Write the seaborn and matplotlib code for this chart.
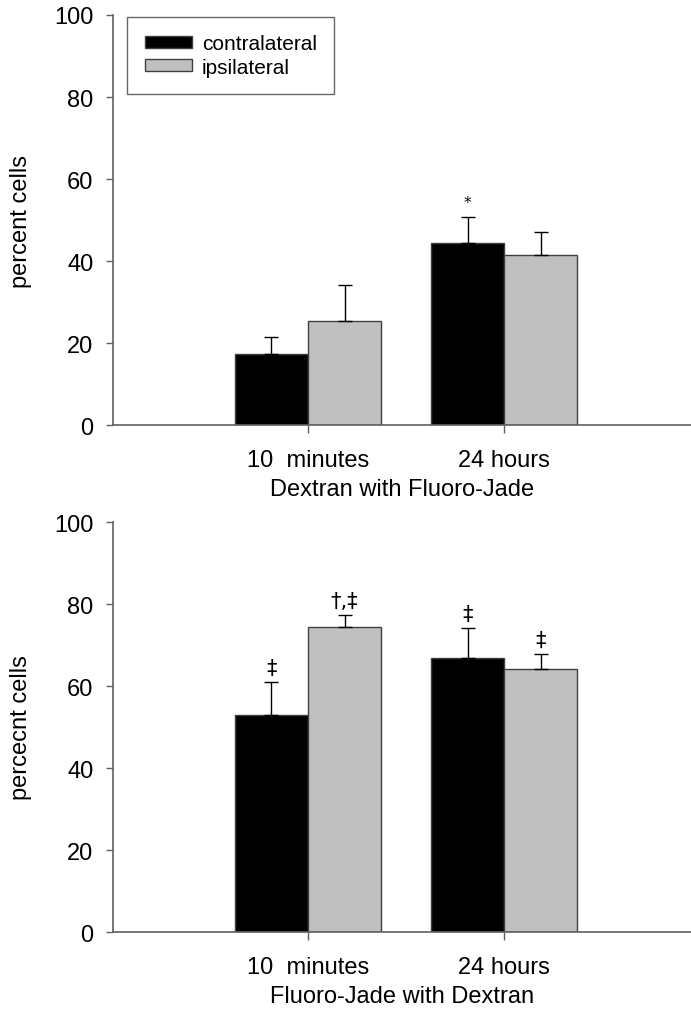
import matplotlib
matplotlib.use("Agg")
import matplotlib.pyplot as plt
import seaborn as sns
import pandas as pd

times = ["10  minutes", "24 hours"]
sides = ["contralateral", "ipsilateral"]

# Dextran with Fluoro-Jade
top_mean = {"contralateral": [17.3, 44.5], "ipsilateral": [25.4, 41.5]}
top_err = {"contralateral": [4.2, 6.2], "ipsilateral": [8.8, 5.6]}
top_marks = {"contralateral": ["", "*"], "ipsilateral": ["", ""]}

# Fluoro-Jade with Dextran
bot_mean = {"contralateral": [52.9, 66.9], "ipsilateral": [74.3, 64.1]}
bot_err = {"contralateral": [8.2, 7.2], "ipsilateral": [3.1, 3.8]}
bot_marks = {"contralateral": ["‡", "‡"], "ipsilateral": ["†,‡", "‡"]}

palette = {"contralateral": "#000000", "ipsilateral": "#c0c0c0"}

plt.rcParams["font.family"] = ["Liberation Sans", "DejaVu Sans"]
fig = plt.figure(figsize=(6.91, 10.12), dpi=100)
ax1 = fig.add_axes([0.1635, 0.579, 0.8365, 0.4052])
ax2 = fig.add_axes([0.1635, 0.078, 0.8365, 0.4052])


def draw_panel(ax, means, errs, marks, xlabel, ylabel, legend):
    rows = []
    for s in sides:
        for t, m in zip(times, means[s]):
            rows.append({"time": t, "side": s, "value": m})
    df = pd.DataFrame(rows)
    sns.barplot(data=df, x="time", y="value", hue="side", order=times,
                hue_order=sides, palette=palette, width=0.745,
                edgecolor="#404040", linewidth=1, errorbar=None,
                legend=legend, ax=ax)
    # upper error bars + significance marks, one container per side
    for s, cont in zip(sides, ax.containers):
        xs = [p.get_x() + p.get_width() / 2 for p in cont.patches]
        ax.errorbar(xs, means[s], yerr=[[0] * len(xs), errs[s]], fmt="none",
                    ecolor="black", elinewidth=1, capsize=4.7, capthick=1)
        for x, m, e, txt in zip(xs, means[s], errs[s], marks[s]):
            if txt == "*":
                ax.text(x, m + e + 1.8, txt, ha="center", va="bottom",
                        fontsize=11, family=["DejaVu Sans"])
            elif txt:
                ax.text(x, m + e + 1.0, txt, ha="center", va="bottom",
                        fontsize=15, family=["DejaVu Sans"])
    ax.set_xlim(-0.995, 1.954)
    ax.set_ylim(0, 100)
    ax.set_yticks([0, 20, 40, 60, 80, 100])
    ax.set_xlabel(xlabel, fontsize=17, labelpad=5)
    ax.set_ylabel(ylabel, fontsize=17, labelpad=16)
    ax.tick_params(axis="both", labelsize=17, color="#606060", length=5, width=1)
    ax.tick_params(axis="y", pad=9)
    ax.tick_params(axis="x", length=6, pad=11)
    for side in ["top", "right"]:
        ax.spines[side].set_visible(False)
    for side in ["left", "bottom"]:
        ax.spines[side].set_color("#606060")
        ax.spines[side].set_linewidth(1.2)
    if legend:
        leg = ax.legend(loc="upper left", bbox_to_anchor=(0.024, 0.996),
                        fontsize=15, frameon=True, fancybox=False,
                        borderpad=0.85, handlelength=2.26, handleheight=0.55,
                        handletextpad=0.48, labelspacing=0.2, borderaxespad=0.0)
        leg.get_frame().set_edgecolor("#404040")
        leg.get_frame().set_linewidth(1)


draw_panel(ax1, top_mean, top_err, top_marks, "Dextran with Fluoro-Jade", "percent cells", True)
draw_panel(ax2, bot_mean, bot_err, bot_marks, "Fluoro-Jade with Dextran", "percecnt cells", False)

fig.savefig("out.png", dpi=100)
